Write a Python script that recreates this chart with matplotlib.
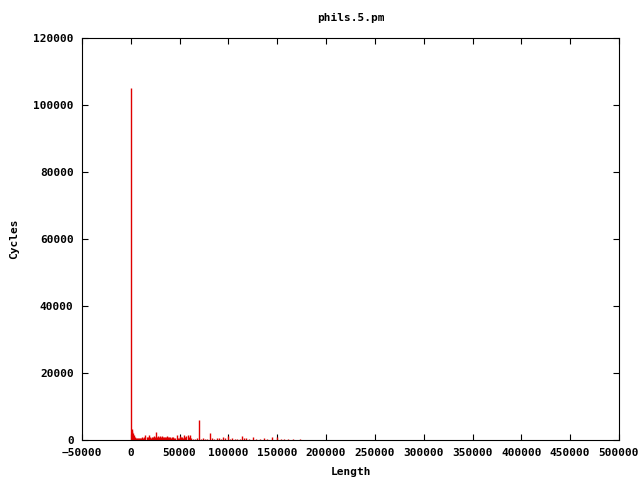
import numpy as np
import matplotlib
matplotlib.use('Agg')
import matplotlib.pyplot as plt

# Data: length vs cycles (impulses)
length = [200, 1000, 1600, 2200, 3300, 4300, 5300, 6300, 7400, 8400,
          9400, 10400, 11500, 12500, 13500, 15000, 16600, 17600, 18600, 19600,
          20700, 21700, 22700, 23700, 24800, 25800, 26800, 27800, 28900, 29900,
          30900, 31900, 33000, 34000, 35000, 36000, 37100, 38100, 39100, 40100,
          41100, 42200, 43200, 44200, 45200, 47300, 48300, 49300, 50400, 51400,
          52400, 53400, 54500, 55500, 56500, 58600, 59600, 60600, 61600, 63700,
          65700, 67800, 69800, 71900, 73900, 76000, 78000, 81100, 83100, 85200,
          88300, 90300, 92400, 94400, 96500, 99500, 101600, 103600, 106700, 108700,
          111800, 113800, 115900, 117900, 121000, 125100, 128200, 132300, 136400, 139500,
          144600, 149700, 153800, 156900, 161000, 166100, 173300]
cycles = [105000, 2800, 3300, 2000, 1500, 900, 600, 700, 500, 600,
          700, 500, 800, 600, 1000, 1500, 900, 1000, 1500, 900,
          700, 1000, 900, 1200, 1000, 2400, 1000, 1200, 900, 1100,
          1000, 1200, 900, 1000, 800, 900, 1300, 900, 800, 1000,
          700, 800, 900, 600, 700, 1500, 600, 700, 1200, 800,
          1000, 700, 1500, 900, 1100, 1400, 800, 1500, 600, 400,
          300, 500, 6000, 400, 500, 400, 400, 2100, 500, 400,
          500, 600, 400, 800, 600, 1200, 400, 500, 400, 300,
          400, 1100, 700, 500, 300, 900, 400, 300, 500, 300,
          800, 900, 300, 300, 200, 200, 300]

plt.rcParams['font.family'] = 'DejaVu Sans Mono'
plt.rcParams['font.weight'] = 'bold'
plt.rcParams['font.size'] = 8

fig = plt.figure(figsize=(6.4, 4.8), dpi=100)
ax = fig.add_axes([82/640, 40/480, (619-82)/640, (440-38)/480])

ax.vlines(length, 0, cycles, colors='#e00000', linewidth=1)

ax.set_xlim(-50000, 500000)
ax.set_ylim(0, 120000)
ax.set_xticks(np.arange(-50000, 500001, 50000))
ax.set_yticks(np.arange(0, 120001, 20000))
ax.tick_params(direction='in', top=True, right=True, length=4, width=0.8, pad=6)
for s in ax.spines.values():
    s.set_linewidth(0.8)

ax.set_title('phils.5.pm', fontsize=8, fontweight='bold', pad=12)
ax.set_xlabel('Length', fontweight='bold', labelpad=6)
ax.set_ylabel('Cycles', fontweight='bold', labelpad=10)

fig.savefig('out.png', dpi=100)
